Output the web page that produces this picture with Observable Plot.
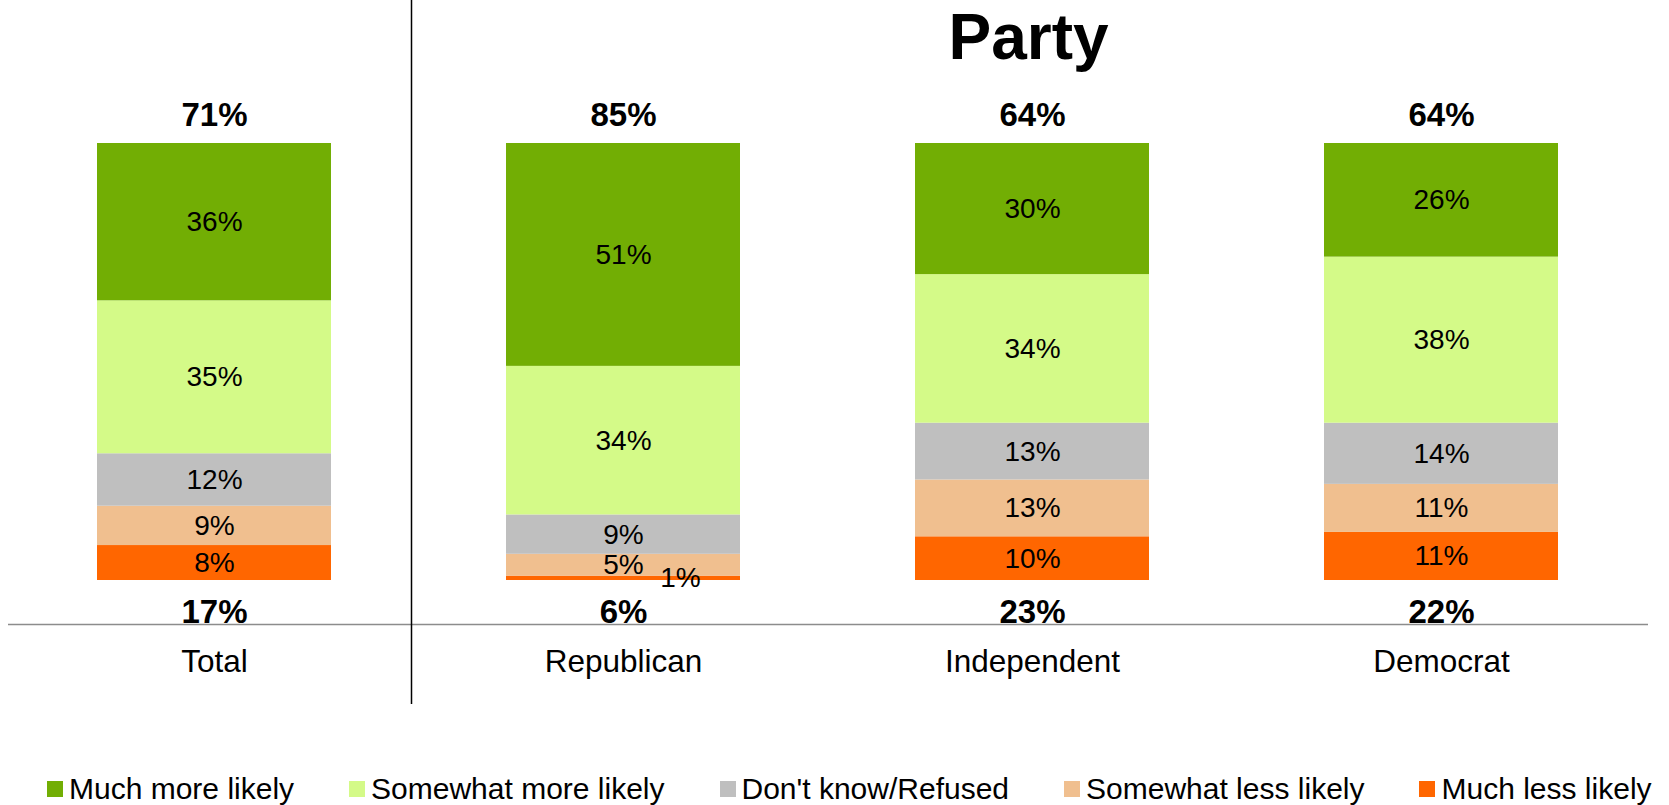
<!DOCTYPE html>
<html>
<head>
<meta charset="utf-8">
<script src="https://cdn.jsdelivr.net/npm/d3@7"></script>
<script src="https://cdn.jsdelivr.net/npm/@observablehq/plot@0.6"></script>
<style>
  html, body { margin: 0; padding: 0; background: #fff; }
  #wrap { position: relative; width: 1669px; height: 805px; overflow: hidden; font-family: "Liberation Sans", Arial, sans-serif; }
  #legend { position: absolute; left: 47px; top: 771px; height: 36px; display: flex; align-items: center; gap: 55px; font-size: 30px; color: #000; white-space: nowrap; }
  .item { display: flex; align-items: center; gap: 6px; }
  .sw { width: 16px; height: 16px; display: inline-block; }
</style>
</head>
<body>
<div id="wrap"><div id="chart"></div><div id="legend"></div></div>
<script>
const categories = ["Total", "Republican", "Independent", "Democrat"];
const series = ["Much more likely", "Somewhat more likely", "Don't know/Refused", "Somewhat less likely", "Much less likely"];
const colors = ["#72AE04", "#D4FA88", "#BFBFBF", "#F0BF8F", "#FF6600"];
const muchMore = [36, 51, 30, 26];
const somewhatMore = [35, 34, 34, 38];
const dontKnow = [12, 9, 13, 14];
const somewhatLess = [9, 5, 13, 11];
const muchLess = [8, 1, 10, 11];
const topNet = ["71%", "85%", "64%", "64%"];
const bottomNet = ["17%", "6%", "23%", "22%"];
const title = "Party";

const valuesBySeries = [muchMore, somewhatMore, dontKnow, somewhatLess, muchLess];
// stack bottom-to-top: Much less first
const rows = [];
for (let s = series.length - 1; s >= 0; s--) {
  categories.forEach((c, i) => rows.push({category: c, series: series[s], value: valuesBySeries[s][i]}));
}
const topRows = categories.map((c, i) => ({category: c, label: topNet[i]}));
const botRows = categories.map((c, i) => ({category: c, label: bottomNet[i]}));

const font = "'Liberation Sans', Arial, sans-serif";
const chart = Plot.plot({
  width: 1669,
  height: 720,
  marginTop: 143,
  marginBottom: 140,
  marginLeft: 0,
  marginRight: 15,
  style: {fontFamily: font, background: "white", color: "black"},
  x: {type: "band", domain: categories, paddingInner: 0.428, paddingOuter: 0.233, axis: null},
  y: {domain: [0, 100], axis: null},
  color: {domain: series, range: colors},
  marks: [
    Plot.barY(rows, {x: "category", y: "value", fill: "series"}),
    Plot.text(rows, Plot.stackY({x: "category", y: "value", z: "series",
      text: d => d.value >= 3 ? d.value + "%" : "", fontSize: 28, fill: "black"})),
    Plot.text(rows, Plot.stackY({x: "category", y: "value", z: "series",
      text: d => d.value < 3 ? d.value + "%" : "", fontSize: 28, fill: "black", dx: 57})),
    Plot.text(topRows, {x: "category", text: "label", frameAnchor: "top", dy: -41, fontSize: 33, fontWeight: "bold", fill: "black"}),
    Plot.text(botRows, {x: "category", text: "label", frameAnchor: "bottom", dy: 42, fontSize: 33, fontWeight: "bold", fill: "black"}),
    Plot.text(categories, {x: d => d, text: d => d, frameAnchor: "bottom", dy: 91, fontSize: 31.5, fill: "black"}),
    Plot.ruleY([0], {dy: 44, stroke: "#8c8c8c", strokeWidth: 1.5, insetLeft: 8, insetRight: 6}),
    Plot.ruleX(["Republican"], {x: d => d, dx: -212, insetTop: -143, insetBottom: -124, stroke: "black", strokeWidth: 1.5}),
    Plot.text([title], {x: () => "Independent", text: d => d, frameAnchor: "top", dx: -4, dy: -130, fontSize: 64, fontWeight: "bold", fill: "black"})
  ]
});
document.getElementById("chart").appendChild(chart);

const legend = document.getElementById("legend");
series.forEach((s, i) => {
  const it = document.createElement("div");
  it.className = "item";
  const sw = document.createElement("span");
  sw.className = "sw";
  sw.style.background = colors[i];
  const t = document.createElement("span");
  t.textContent = s;
  it.appendChild(sw); it.appendChild(t);
  legend.appendChild(it);
});
</script>
</body>
</html>
